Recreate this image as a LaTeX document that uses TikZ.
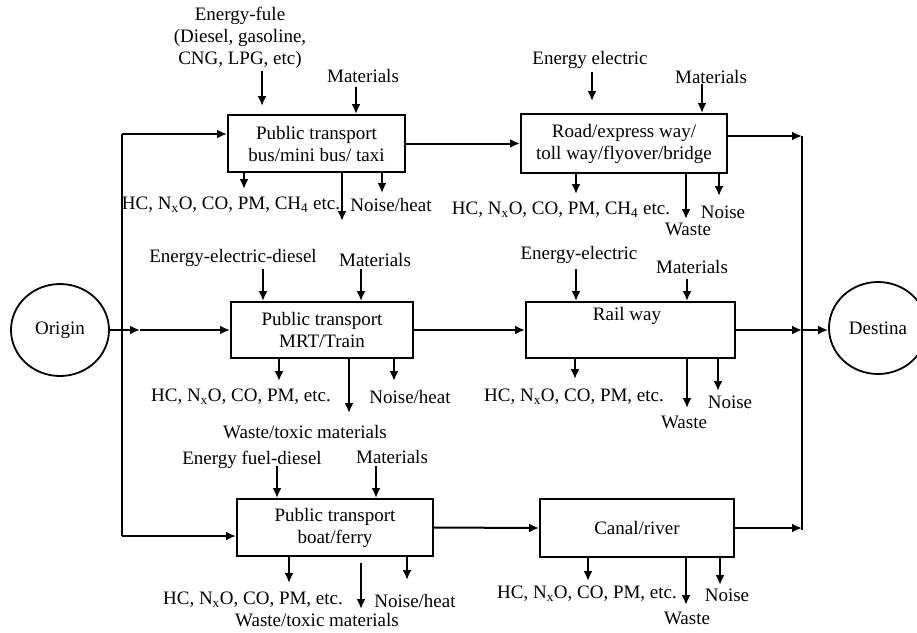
\documentclass[tikz,border=0pt]{standalone}
\usepackage{fontspec}
\setmainfont{Liberation Serif}
\usetikzlibrary{arrows.meta,shapes.geometric}
\newcommand\NxO{N\textsubscript{x}O}
\newcommand\CHfour{CH\textsubscript{4}}
\begin{document}
\begin{tikzpicture}[x=1pt,y=-1pt,
  every node/.style={inner sep=0pt, font=\fontsize{19}{22}\selectfont},
  box/.style={draw, line width=2pt, align=center},
  lbl/.style={align=center},
  flow/.style={line width=2pt, -{Latex[length=10pt,width=9pt]}},
  wire/.style={line width=2pt},
  place/.style={draw, ellipse, line width=1.8pt, minimum width=98pt, minimum height=92pt}
]
\useasboundingbox (0,0) rectangle (917,632);

% ---- end points ----
\node[place] (orig) at (60,330) {Origin};
\node[place] (dest) at (878,328) {Destina};

% ---- transport / infrastructure boxes ----
\node[box, minimum width=177pt, minimum height=57pt] (b1) at (316.5,143.5) {Public transport\\bus/mini bus/ taxi};
\node[box, minimum width=206pt, minimum height=59pt] (b2) at (624,143.5) {Road/express way/\\toll way/flyover/bridge};
\node[box, minimum width=182pt, minimum height=56pt] (b3) at (322,330) {Public transport\\MRT/Train};
\node[box, minimum width=209pt, minimum height=56pt] (b4) at (630.5,330) {};
\node (rail) at (627,316) {Rail way};
\node[box, minimum width=196pt, minimum height=57pt] (b5) at (335,527.5) {Public transport\\boat/ferry};
\node[box, minimum width=194pt, minimum height=58pt] (b6) at (637,528) {Canal/river};

% ---- input labels ----
\node[lbl] (fuel1) at (240,38) {Energy-fule\\(Diesel, gasoline,\\CNG, LPG, etc)};
\node (mat1) at (363,76) {Materials};
\node (elec2) at (590,60) {Energy electric};
\node (mat2) at (711,77) {Materials};
\node (eed3) at (233,258) {Energy-electric-diesel};
\node (mat3) at (375,260) {Materials};
\node (ee4) at (579,255) {Energy-electric};
\node (mat4) at (692,267) {Materials};
\node (efd5) at (252,460) {Energy fuel-diesel};
\node (mat5) at (392,457) {Materials};

% ---- output labels ----
\node (hc1) at (231,205) {HC, \NxO, CO, PM, \CHfour{} etc.};
\node (noise1) at (391,205) {Noise/heat};
\node (hc2) at (561,210) {HC, \NxO, CO, PM, \CHfour{} etc.};
\node (waste2) at (688,229) {Waste};
\node (noise2) at (723,212) {Noise};
\node (hc3) at (241,397) {HC, \NxO, CO, PM, etc.};
\node (waste3) at (305,432) {Waste/toxic materials};
\node (noise3) at (410,397) {Noise/heat};
\node (hc4) at (574,397) {HC, \NxO, CO, PM, etc.};
\node (waste4) at (684,422) {Waste};
\node (noise4) at (730,402) {Noise};
\node (hc5) at (253,600) {HC, \NxO, CO, PM, etc.};
\node (waste5) at (317,620) {Waste/toxic materials};
\node (noise5) at (415,601) {Noise/heat};
\node (hc6) at (587,594) {HC, \NxO, CO, PM, etc.};
\node (waste6) at (687,618) {Waste};
\node (noise6) at (727,595) {Noise};

% ---- inputs into the boxes ----
\draw[flow] ([xshift=35pt,yshift=43pt]b1.north west) -- ([xshift=35pt,yshift=8pt]b1.north west);
\draw[flow] ([xshift=129pt,yshift=27pt]b1.north west) -- ([xshift=129pt]b1.north west);
\draw[flow] ([xshift=72pt,yshift=41pt]b2.north west) -- ([xshift=72pt,yshift=12pt]b2.north west);
\draw[flow] ([xshift=182pt,yshift=29pt]b2.north west) -- ([xshift=182pt]b2.north west);
\draw[flow] ([xshift=33pt,yshift=32pt]b3.north west) -- ([xshift=33pt]b3.north west);
\draw[flow] ([xshift=131pt,yshift=32pt]b3.north west) -- ([xshift=131pt]b3.north west);
\draw[flow] ([xshift=51pt,yshift=32pt]b4.north west) -- ([xshift=51pt]b4.north west);
\draw[flow] ([xshift=162pt,yshift=22pt]b4.north west) -- ([xshift=162pt]b4.north west);
\draw[flow] ([xshift=41pt,yshift=32pt]b5.north west) -- ([xshift=41pt]b5.north west);
\draw[flow] ([xshift=140pt,yshift=32pt]b5.north west) -- ([xshift=140pt]b5.north west);

% ---- outputs from the boxes ----
\draw[flow] ([xshift=17pt]b1.south west) -- ++(0,16);
\draw[flow] ([xshift=115pt]b1.south west) -- ++(0,48);
\draw[flow] ([xshift=155pt]b1.south west) -- ++(0,20);
\draw[flow] ([xshift=56pt]b2.south west) -- ++(0,20);
\draw[flow] ([xshift=166pt]b2.south west) -- ++(0,45);
\draw[flow] ([xshift=199pt]b2.south west) -- ++(0,22);
\draw[flow] ([xshift=49pt]b3.south west) -- ++(0,22);
\draw[flow] ([xshift=119pt]b3.south west) -- ++(0,54);
\draw[flow] ([xshift=164pt]b3.south west) -- ++(0,22);
\draw[flow] ([xshift=50pt]b4.south west) -- ++(0,20);
\draw[flow] ([xshift=162pt]b4.south west) -- ++(0,49);
\draw[flow] ([xshift=193pt]b4.south west) -- ++(0,32);
\draw[flow] ([xshift=53pt]b5.south west) -- ++(0,26);
\draw[flow] ([xshift=125pt,yshift=-6pt]b5.south west) -- ++(0,46);
\draw[flow] ([xshift=171pt]b5.south west) -- ++(0,23);
\draw[flow] ([xshift=49pt]b6.south west) -- ++(0,23);
\draw[flow] ([xshift=147pt]b6.south west) -- ++(0,47);
\draw[flow] ([xshift=181pt]b6.south west) -- ++(0,27);

% ---- distribution from the origin ----
\coordinate (L1) at (122,134);
\coordinate (L5) at (122,536);
\coordinate (M) at (140,330);
\draw[wire] (L1) -- (L5);
\draw[flow] (L1) -- (L1 -| b1.west);
\draw[flow] (L5) -- (L5 -| b5.west);
\draw[flow] (orig.east) -- (M);
\draw[flow] (M) -- (b3.west);

% ---- mode to infrastructure ----
\draw[flow] (b1.east) -- (b2.west);
\draw[flow] (b3.east) -- (b4.west);
\draw[flow] (b5.east) -- (b6.west);

% ---- collection towards the destination ----
\coordinate (R1) at (802,136);
\coordinate (R3) at (802,530);
\coordinate (R2) at (b4.east -| R1);
\draw[wire] (R1) -- (R3);
\draw[flow] (R1 -| b2.east) -- (R1);
\draw[flow] (b4.east) -- (R2);
\draw[flow] (b6.east) -- (b6.east -| R1);
\draw[flow] (R2) -- (R2 -| dest.west);
\end{tikzpicture}
\end{document}
